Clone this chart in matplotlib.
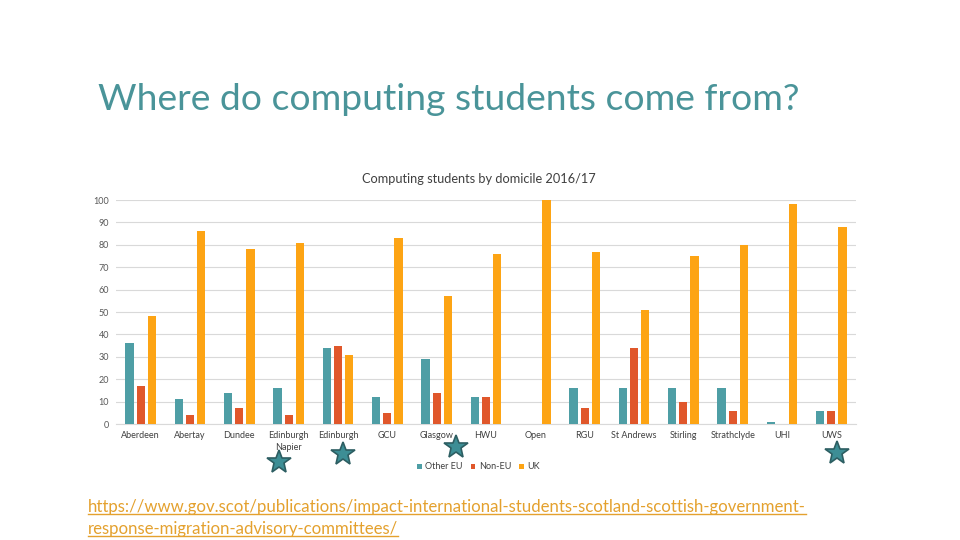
import numpy as np
import matplotlib.pyplot as plt
from matplotlib.lines import Line2D
import matplotlib.transforms as mtransforms

universities = ["Aberdeen", "Abertay", "Dundee", "Edinburgh\nNapier", "Edinburgh",
                "GCU", "Glasgow", "HWU", "Open", "RGU", "St Andrews", "Stirling",
                "Strathclyde", "UHI", "UWS"]
other_eu = [36, 11, 14, 16, 34, 12, 29, 12, 0, 16, 16, 16, 16, 1, 6]
non_eu = [17, 4, 7, 4, 35, 5, 14, 12, 0, 7, 34, 10, 6, 0, 6]
uk = [48, 86, 78, 81, 31, 83, 57, 76, 100, 77, 51, 75, 80, 98, 88]
series_names = ["Other EU", "Non-EU", "UK"]
yticks = list(range(0, 101, 10))

# universities marked with a star under the axis
starred = ["Edinburgh\nNapier", "Edinburgh", "Glasgow", "UWS"]
star_dx = [-10, 5, 19, 6]      # pixels right of the category centre
star_drop = [38, 30, 23, 29]   # pixels below the axis

colors = ["#4E9EA5", "#E0572B", "#FDA414"]
teal = "#4A9499"
font = "Lato"

fig = plt.figure(figsize=(9.6, 5.4), dpi=100)
fig.patch.set_facecolor("white")

fig.text(98 / 960, 1 - 100 / 540, "Where do computing students come from?",
         fontsize=26.8, color=teal, family=font, va="center", ha="left")

ax = fig.add_axes([116 / 960, 1 - 424 / 540, 740 / 960, 224 / 540])
x = np.arange(len(universities))
w = 0.165
step = 0.225
for i, (vals, name) in enumerate(zip([other_eu, non_eu, uk], series_names)):
    ax.bar(x + (i - 1) * step, vals, width=w, color=colors[i], label=name, zorder=3)

ax.set_xlim(-0.5, len(universities) - 0.5)
ax.set_ylim(0, 100)
ax.set_yticks(yticks)
ax.set_yticklabels([str(t) for t in yticks], fontsize=6.5, color="#595959", family=font)
ax.set_xticks(x)
ax.set_xticklabels(universities, fontsize=6.5, color="#404040", family=font,
                   linespacing=1.5)
ax.tick_params(length=0, pad=5)
ax.grid(axis="y", color="#D9D9D9", linewidth=0.8, zorder=0)
for s in ["top", "right", "left"]:
    ax.spines[s].set_visible(False)
ax.spines["bottom"].set_color("#D9D9D9")
fig.text(479 / 960, 1 - 179 / 540, "Computing students by domicile 2016/17",
         fontsize=9.2, color="#404040", family=font, ha="center", va="center")

leg = ax.legend(loc="upper center", bbox_to_anchor=(0.49, -0.135), ncol=3,
                frameon=False, fontsize=6.5, handlelength=0.5, handleheight=0.5,
                handletextpad=0.4, columnspacing=0.9)
for t in leg.get_texts():
    t.set_color("#404040")
    t.set_family(font)

# stars below the chosen universities
trans = mtransforms.blended_transform_factory(ax.transData, ax.transAxes)
for name, dx, drop in zip(starred, star_dx, star_drop):
    xi = universities.index(name)
    off = mtransforms.offset_copy(trans, fig=fig, x=dx, y=-drop, units="dots")
    ax.plot(xi, 0, marker="*", markersize=18, color="#3D8E95",
            markeredgecolor="#2D5E62", markeredgewidth=1.2,
            transform=off, clip_on=False, zorder=5)

link1 = fig.text(88 / 960, 1 - 507 / 540,
                 "https://www.gov.scot/publications/impact-international-students-scotland-scottish-government-",
                 fontsize=12.1, color="#E4A12E", family=font, va="center")
link2 = fig.text(88 / 960, 1 - 529 / 540, "response-migration-advisory-committees/",
                 fontsize=12.1, color="#E4A12E", family=font, va="center")

fig.canvas.draw()
for t in [link1, link2]:
    bb = t.get_window_extent()
    y0 = bb.y0 + 1
    fig.add_artist(Line2D([bb.x0 / 960, bb.x1 / 960], [y0 / 540, y0 / 540],
                          color="#E4A12E", linewidth=1.0, transform=fig.transFigure))

fig.savefig("out.png", dpi=100)
